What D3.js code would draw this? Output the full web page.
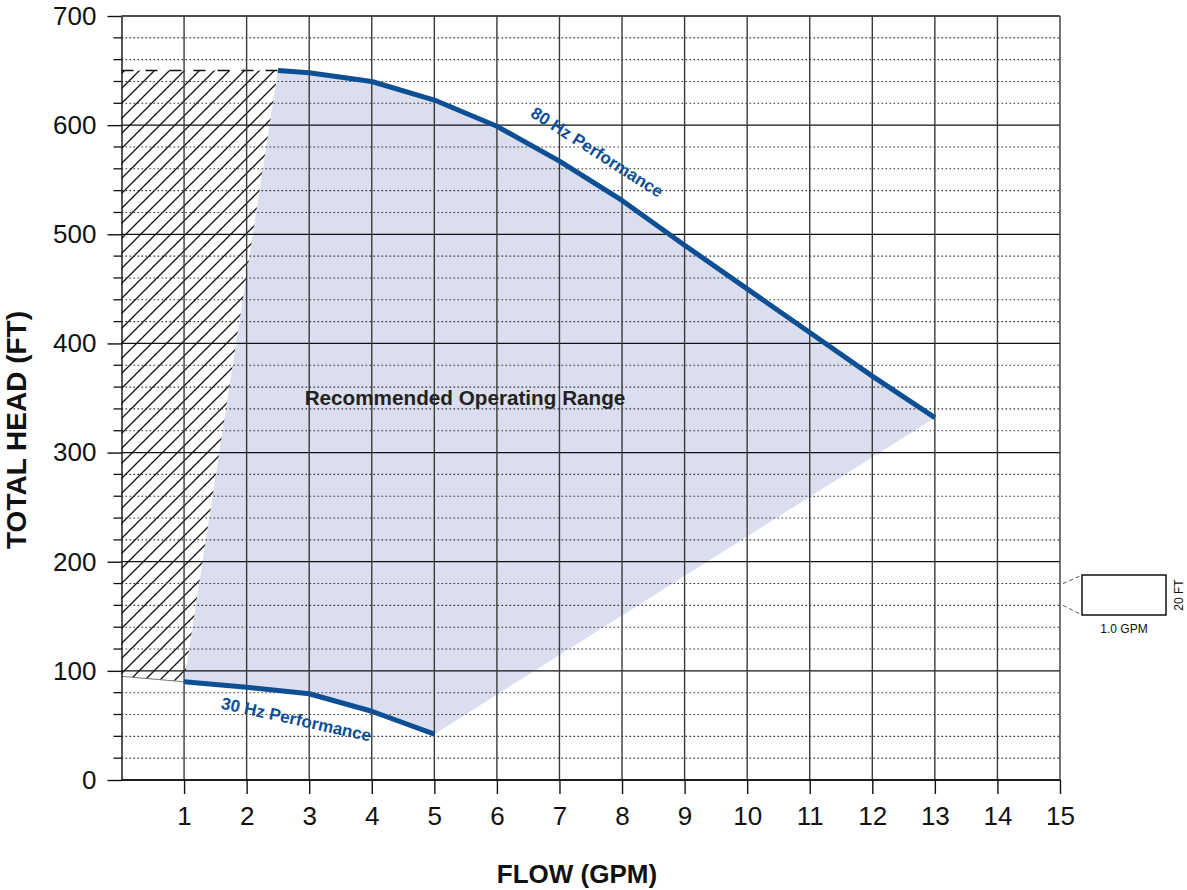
<!DOCTYPE html>
<html>
<head>
<meta charset="utf-8">
<script src="https://cdn.jsdelivr.net/npm/d3@7"></script>
<style>
  html, body { margin: 0; padding: 0; background: #fff; }
  svg { display: block; font-family: "Liberation Sans", Arial, Helvetica, sans-serif; }
</style>
</head>
<body>
<svg id="chart" width="1187" height="890"></svg>
<script>
// ---- Data ----
const flow80 = [2.5, 3, 4, 5, 6, 7, 8, 9, 10, 11, 12, 13];
const head80 = [650, 648, 640, 623, 599, 567, 531, 490, 450, 410, 370, 332];
const flow30 = [1, 2, 3, 4, 5];
const head30 = [90, 85, 79, 63, 42];
// hatched (not recommended) zone outline
const hatchFlow = [0, 2.5, 1, 0];
const hatchHead = [650, 650, 90, 95];
const xTicks = [1, 2, 3, 4, 5, 6, 7, 8, 9, 10, 11, 12, 13, 14, 15];
const yTicks = [0, 100, 200, 300, 400, 500, 600, 700];
const yMinor = d3.range(20, 700, 20).filter(v => v % 100 !== 0);

const svg = d3.select("#chart");
const x = d3.scaleLinear().domain([0, 15]).range([121.5, 1060]);
const y = d3.scaleLinear().domain([0, 700]).range([780, 16]);

const blue = "#0d4f95";

// ---- Shaded recommended range ----
const p80 = flow80.map((f, i) => [f, head80[i]]);
const p30 = flow30.map((f, i) => [f, head30[i]]);
const shadePts = p80.concat(p30.slice().reverse());
svg.append("path")
  .attr("d", d3.line().x(d => x(d[0])).y(d => y(d[1]))(shadePts) + "Z")
  .attr("fill", "#dadeee");

// ---- Hatch pattern ----
const defs = svg.append("defs");
const pat = defs.append("pattern")
  .attr("id", "hatch").attr("patternUnits", "userSpaceOnUse")
  .attr("width", 15).attr("height", 15);
pat.append("path")
  .attr("d", "M-2,17 L17,-2 M-2,2 L2,-2 M13,17 L17,13")
  .attr("stroke", "#111").attr("stroke-width", 1.3);
const hatchPts = hatchFlow.map((f, i) => [f, hatchHead[i]]);
svg.append("path")
  .attr("d", d3.line().x(d => x(d[0])).y(d => y(d[1]))(hatchPts) + "Z")
  .attr("fill", "url(#hatch)");
// dashed top edge
svg.append("line")
  .attr("x1", x(hatchFlow[0])).attr("x2", x(hatchFlow[1]))
  .attr("y1", y(hatchHead[0])).attr("y2", y(hatchHead[1]))
  .attr("stroke", "#111").attr("stroke-width", 1.4)
  .attr("stroke-dasharray", "12,12");
// thin bottom edge
svg.append("line")
  .attr("x1", x(hatchFlow[3])).attr("x2", x(hatchFlow[2]))
  .attr("y1", y(hatchHead[3])).attr("y2", y(hatchHead[2]))
  .attr("stroke", "#777").attr("stroke-width", 1);

// ---- Grid ----
const grid = svg.append("g");
grid.selectAll(".minor").data(yMinor).join("line")
  .attr("x1", x(0)).attr("x2", x(15))
  .attr("y1", d => y(d)).attr("y2", d => y(d))
  .attr("stroke", "#333").attr("stroke-width", 1.1)
  .attr("stroke-dasharray", "1.6,2.4");
grid.selectAll(".minorTick").data(yMinor).join("line")
  .attr("x1", x(0) - 8).attr("x2", x(0))
  .attr("y1", d => y(d)).attr("y2", d => y(d))
  .attr("stroke", "#111").attr("stroke-width", 1.3);
grid.selectAll(".major").data(yTicks).join("line")
  .attr("x1", x(0)).attr("x2", x(15))
  .attr("y1", d => y(d)).attr("y2", d => y(d))
  .attr("stroke", "#111").attr("stroke-width", 1.3);
grid.selectAll(".vert").data(xTicks).join("line")
  .attr("x1", d => x(d)).attr("x2", d => x(d))
  .attr("y1", y(700)).attr("y2", y(0))
  .attr("stroke", "#3a3a3a").attr("stroke-width", 1.4);

// ---- Axes ----
const xAxis = svg.append("g")
  .attr("transform", `translate(0,${y(0)})`)
  .call(d3.axisBottom(x).tickValues(xTicks).tickSize(14).tickSizeOuter(0).tickPadding(13));
const yAxis = svg.append("g")
  .attr("transform", `translate(${x(0)},0)`)
  .call(d3.axisLeft(y).tickValues(yTicks).tickSize(14).tickSizeOuter(0).tickPadding(11));
[xAxis, yAxis].forEach(a => {
  a.selectAll("path.domain").attr("stroke", "#111").attr("stroke-width", 1.4);
  a.selectAll(".tick line").attr("stroke", "#111").attr("stroke-width", 1.4);
  a.selectAll(".tick text").attr("fill", "#111")
    .style("font-size", "26px")
    .style("font-family", "'Liberation Sans', Arial, Helvetica, sans-serif");
});
xAxis.select("path.domain").remove();
svg.append("line").attr("x1", x(0)).attr("x2", x(15)).attr("y1", y(0)).attr("y2", y(0))
  .attr("stroke", "#111").attr("stroke-width", 1.4);

// ---- Performance curves ----
const curve = d3.line().x(d => x(d[0])).y(d => y(d[1]));
svg.append("path").attr("d", curve(p80))
  .attr("fill", "none").attr("stroke", blue).attr("stroke-width", 5)
  .attr("stroke-linejoin", "round");
svg.append("path").attr("d", curve(p30))
  .attr("fill", "none").attr("stroke", blue).attr("stroke-width", 5)
  .attr("stroke-linejoin", "round");

// ---- Labels ----
svg.append("text")
  .attr("transform", `translate(594,157) rotate(32.5)`)
  .attr("text-anchor", "middle")
  .attr("fill", blue).attr("font-weight", "bold").attr("font-size", 17)
  .text("80 Hz Performance");
svg.append("text")
  .attr("transform", `translate(295,725) rotate(12.5)`)
  .attr("text-anchor", "middle")
  .attr("fill", blue).attr("font-weight", "bold").attr("font-size", 17)
  .text("30 Hz Performance");
svg.append("text")
  .attr("x", 465).attr("y", 405)
  .attr("text-anchor", "middle")
  .attr("fill", "#222").attr("font-weight", "bold").attr("font-size", 20.7)
  .text("Recommended Operating Range");

// axis titles
svg.append("text")
  .attr("x", 577).attr("y", 883)
  .attr("text-anchor", "middle")
  .attr("font-weight", "bold").attr("font-size", 26).attr("fill", "#111")
  .text("FLOW (GPM)");
svg.append("text")
  .attr("transform", "translate(26,430) rotate(-90)")
  .attr("text-anchor", "middle")
  .attr("font-weight", "bold").attr("font-size", 28).attr("fill", "#111")
  .text("TOTAL HEAD (FT)");

// ---- Scale key ----
const key = svg.append("g");
key.append("rect").attr("x", 1082).attr("y", 575).attr("width", 84).attr("height", 40)
  .attr("fill", "none").attr("stroke", "#111").attr("stroke-width", 1.5);
key.append("line").attr("x1", 1063).attr("y1", y(180)).attr("x2", 1080).attr("y2", 576)
  .attr("stroke", "#555").attr("stroke-width", 1).attr("stroke-dasharray", "4,3");
key.append("line").attr("x1", 1063).attr("y1", y(160)).attr("x2", 1080).attr("y2", 614)
  .attr("stroke", "#555").attr("stroke-width", 1).attr("stroke-dasharray", "4,3");
key.append("text").attr("x", 1124).attr("y", 633).attr("text-anchor", "middle")
  .attr("font-size", 12).attr("fill", "#111").text("1.0 GPM");
key.append("text").attr("transform", "translate(1183,595) rotate(-90)")
  .attr("text-anchor", "middle")
  .attr("font-size", 12).attr("fill", "#111").text("20 FT");
</script>
</body>
</html>
